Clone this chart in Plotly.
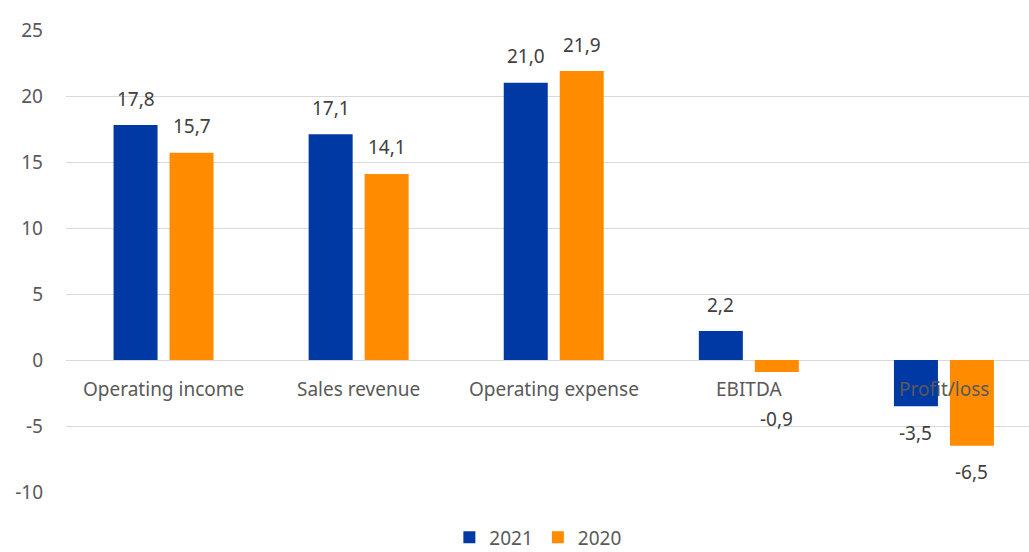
import plotly.graph_objects as go

categories = ["Operating income", "Sales revenue", "Operating expense", "EBITDA", "Profit/loss"]
values_2021 = [17.8, 17.1, 21.0, 2.2, -3.5]
values_2020 = [15.7, 14.1, 21.9, -0.9, -6.5]
series_names = ["2021", "2020"]
y_ticks = [-10, -5, 0, 5, 10, 15, 20, 25]

BLUE = "#0039A3"
ORANGE = "#FF8C00"
TEXT = "#595959"
GRID = "#D9D9D9"
FONT = "Noto Sans"
FS = 19

BARGAP = 0.426
GROUPGAP = 0.214

fig = go.Figure()
for name, vals, color in [(series_names[0], values_2021, BLUE), (series_names[1], values_2020, ORANGE)]:
    fig.add_trace(go.Bar(
        x=categories, y=vals, name=name,
        marker=dict(color=color, line=dict(width=0)),
        offsetgroup=name,
    ))

# value labels: above positive bars, below negative ones (kept clear of category names)
annotations = []
half = (1 - BARGAP) / 4  # offset of each bar centre from the category centre
bar_shift = {series_names[0]: -half, series_names[1]: half}
for name, vals in [(series_names[0], values_2021), (series_names[1], values_2020)]:
    for i, v in enumerate(vals):
        ly = v + 2.0 if v >= 0 else min(v - 2.0, -4.5)
        annotations.append(dict(
            x=i + bar_shift[name], y=ly, xref="x", yref="y",
            text=f"{v:.1f}".replace(".", ","), showarrow=False,
            font=dict(family=FONT, size=FS, color="#404040"),
            xanchor="center", yanchor="middle",
        ))

# category names drawn along the zero line
for i, c in enumerate(categories):
    annotations.append(dict(
        x=i, y=0, xref="x", yref="y", text=c, showarrow=False,
        yanchor="top", yshift=-14,
        font=dict(family=FONT, size=FS, color=TEXT),
    ))

fig.update_layout(
    width=1029, height=552,
    margin=dict(l=66, r=0, t=30, b=60, autoexpand=False),
    paper_bgcolor="white", plot_bgcolor="white",
    barmode="group", bargap=BARGAP, bargroupgap=GROUPGAP,
    font=dict(family=FONT, size=FS, color=TEXT),
    showlegend=True,
    legend=dict(orientation="h", x=0.49, xanchor="center", y=-0.098, yanchor="middle",
                font=dict(family=FONT, size=FS, color=TEXT), traceorder="normal",
                itemwidth=30),
    annotations=annotations,
)
# the last category runs slightly past the right edge
fig.update_xaxes(showticklabels=False, showgrid=False, showline=False, zeroline=False,
                 range=[-0.5, 4.436])
fig.update_yaxes(range=[-10, 25], tickvals=y_ticks, ticktext=[str(t) for t in y_ticks],
                 showgrid=True, gridcolor=GRID, gridwidth=1,
                 zeroline=True, zerolinecolor=GRID, zerolinewidth=1, showline=False,
                 ticklabelstandoff=22, tickfont=dict(family=FONT, size=FS, color=TEXT))

fig.write_html("out.html")
